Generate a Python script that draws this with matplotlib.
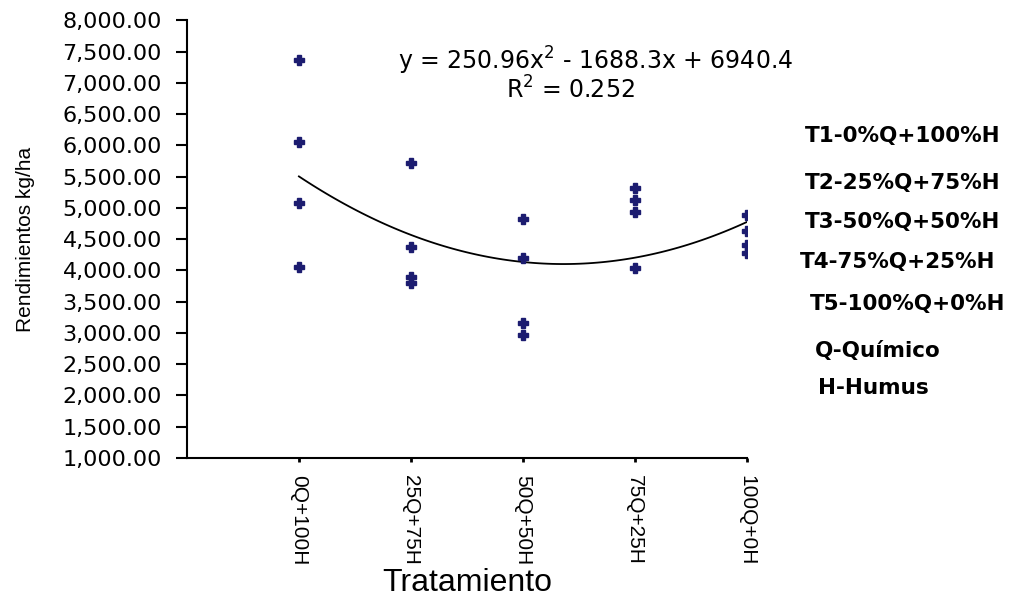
import matplotlib.pyplot as plt
import matplotlib.ticker as mticker
import numpy as np

# tratamientos (eje x) y rendimientos
tratamientos = ["0Q+100H", "25Q+75H", "50Q+50H", "75Q+25H", "100Q+0H"]
trat_x = [1, 1, 1, 1, 2, 2, 2, 2, 3, 3, 3, 3, 4, 4, 4, 4, 5, 5, 5, 5]
rendimiento = [7360, 6060, 5080, 4060,
               5720, 4370, 3900, 3800,
               4820, 4190, 3160, 2970,
               5310, 5120, 4930, 4030,
               4890, 4630, 4410, 4270]

# coeficientes de la linea de tendencia (del texto del grafico)
coef = [250.96, -1688.3, 6940.4]
r2 = 0.252

leyenda = ["T1-0%Q+100%H", "T2-25%Q+75%H", "T3-50%Q+50%H", "T4-75%Q+25%H",
           "T5-100%Q+0%H", "Q-Químico", "H-Humus"]

fig = plt.figure(figsize=(10.16, 5.97), dpi=100)
ax = fig.add_axes([0.184, 0.233, 0.551, 0.733])

ax.plot(trat_x, rendimiento, linestyle="none", marker="P", markersize=7,
        color="#1c1c70", zorder=3)

xs = np.linspace(1, 5, 100)
ax.plot(xs, np.polyval(coef, xs), color="black", linewidth=1.3, zorder=2)

ax.set_xlim(0, 5)
ax.set_ylim(1000, 8000)
ax.set_xticks(range(1, 6))
ax.set_xticklabels(tratamientos, rotation=-90, fontsize=15, family="Liberation Sans")
ax.yaxis.set_major_locator(mticker.MultipleLocator(500))
ax.yaxis.set_major_formatter(mticker.FuncFormatter(lambda v, p: f"{v:,.2f}"))
for lab in ax.get_yticklabels():
    lab.set_fontsize(16)
    lab.set_family("DejaVu Sans")

ax.spines["top"].set_visible(False)
ax.spines["right"].set_visible(False)
ax.spines["left"].set_linewidth(1.5)
ax.spines["bottom"].set_linewidth(1.5)
ax.tick_params(axis="y", direction="out", length=8, width=1.5, pad=10)
ax.tick_params(axis="x", direction="out", length=3, width=2, pad=9)

ax.set_ylabel("Rendimientos kg/ha", fontsize=15, family="Liberation Sans", labelpad=20)
ax.set_xlabel("Tratamiento", fontsize=23, family="Liberation Sans", labelpad=2)

ax.text(3.65, 7350,
        f"y = {coef[0]}x$^2$ - {abs(coef[1])}x + {coef[2]}",
        ha="center", va="center", fontsize=17, family="DejaVu Sans")
ax.text(3.42, 6880, f"R$^2$ = {r2}", ha="center", va="center",
        fontsize=17, family="DejaVu Sans")

ley_x = [0.792, 0.792, 0.792, 0.787, 0.797, 0.802, 0.805]
ley_y = [0.772, 0.693, 0.628, 0.561, 0.491, 0.412, 0.350]
for t, lx, ly in zip(leyenda, ley_x, ley_y):
    fig.text(lx, ly, t, fontsize=15.5, fontweight="bold", family="DejaVu Sans",
             va="center", ha="left")

fig.savefig("out.png", dpi=100)
